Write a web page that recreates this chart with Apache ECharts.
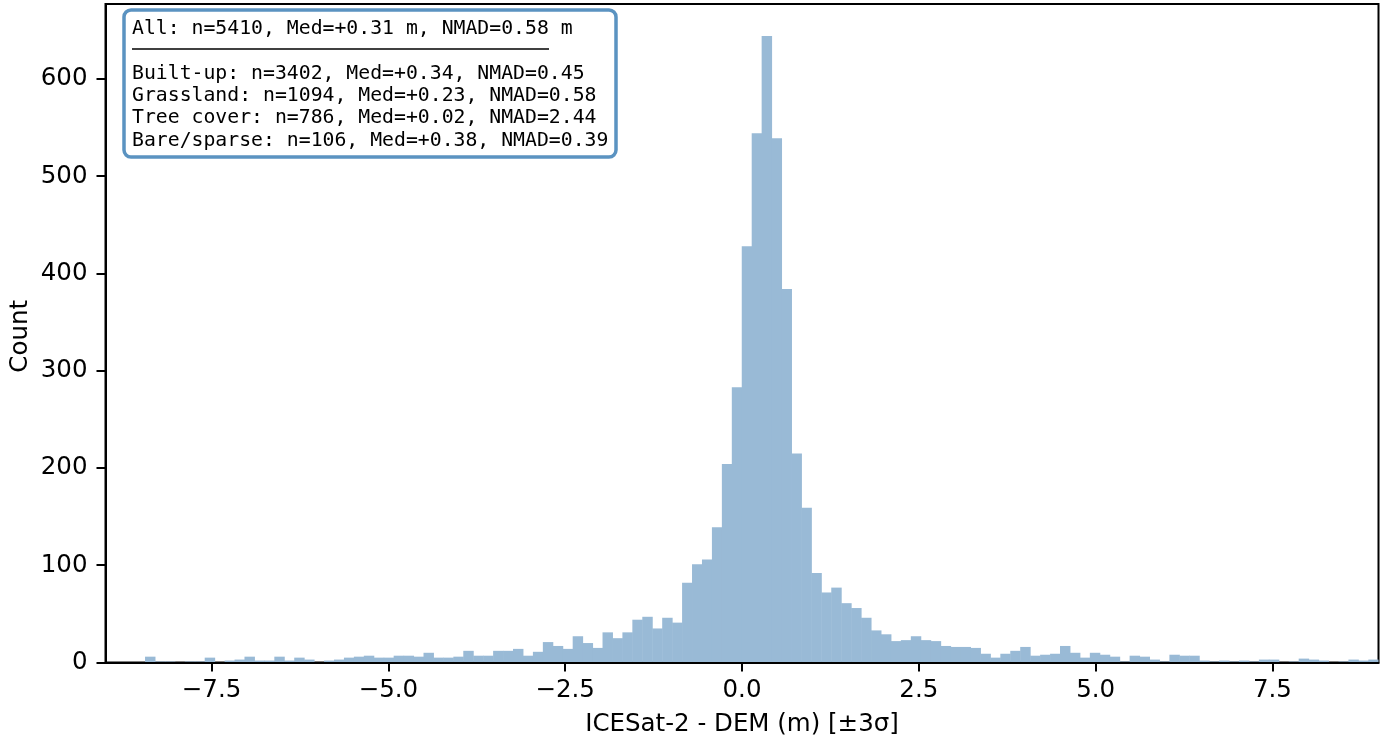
<!DOCTYPE html>
<html>
<head>
<meta charset="utf-8">
<title>ICESat-2 - DEM</title>
<script src="https://cdn.jsdelivr.net/npm/echarts@6/dist/echarts.min.js"></script>
<style>
html, body { margin: 0; padding: 0; background: #fff; }
#chart { width: 1383px; height: 742px; }
</style>
</head>
<body>
<div id="chart"></div>
<script>
// 128 bins between -9 and +9 m
const xMin = -9;
const xMax = 9;
const binCount = [
    0, 0, 0, 0, 6, 1, 1, 0, 1, 1, 5, 0, 2, 3, 6, 2,
    2, 6, 2, 5, 3, 0, 2, 3, 5, 6, 7, 5, 5, 7, 7, 6,
    10, 5, 5, 6, 12, 7, 7, 12, 12, 14, 7, 11, 21, 17, 14, 27,
    20, 15, 31, 25, 31, 44, 47, 35, 46, 41, 82, 101, 106, 139, 204, 283,
    428, 544, 644, 539, 384, 215, 159, 92, 72, 77, 61, 56, 46, 33, 29, 22,
    23, 27, 23, 22, 17, 16, 16, 15, 9, 5, 9, 12, 16, 7, 8, 9,
    17, 10, 5, 10, 8, 6, 1, 7, 6, 3, 1, 8, 7, 7, 2, 1,
    2, 1, 2, 1, 3, 3, 0, 1, 4, 3, 2, 0, 1, 3, 2, 3
];
const binLabels = binCount.map((v, i) => (xMin + (i + 0.5) * (xMax - xMin) / binCount.length).toFixed(3));
const xTicks = [-7.5, -5, -2.5, 0, 2.5, 5, 7.5];
const yTicks = [0, 100, 200, 300, 400, 500, 600];
const statsTitle = 'All: n=5410, Med=+0.31 m, NMAD=0.58 m';
const statsLines = [
    'Built-up: n=3402, Med=+0.34, NMAD=0.45',
    'Grassland: n=1094, Med=+0.23, NMAD=0.58',
    'Tree cover: n=786, Med=+0.02, NMAD=2.44',
    'Bare/sparse: n=106, Med=+0.38, NMAD=0.39'
];

document.addEventListener('DOMContentLoaded', function() {
    const chart = echarts.init(document.getElementById('chart'));
    const font = '"DejaVu Sans"';
    const mono = '"DejaVu Sans Mono"';
    const statsStyle = { fontFamily: mono, fontSize: 19.8, fill: '#000', textVerticalAlign: 'middle' };

    const option = {
        animation: false,
        backgroundColor: '#fff',
        grid: {
            left: 105.5,
            right: 4.5,
            top: 4,
            bottom: 79.5,
            outerBoundsMode: 'none',
            show: true,
            borderColor: '#000',
            borderWidth: 2,
            backgroundColor: 'transparent'
        },
        xAxis: [
            // 柱子用的类目轴，不显示
            { type: 'category', data: binLabels, show: false, boundaryGap: true },
            {
                type: 'value',
                position: 'bottom',
                z: 5,
                min: xMin,
                max: xMax,
                splitLine: { show: false },
                axisLine: { show: true, onZero: false, lineStyle: { color: '#000', width: 2 } },
                axisTick: { show: true, length: 9, customValues: xTicks, lineStyle: { color: '#000', width: 2 } },
                axisLabel: {
                    customValues: xTicks,
                    fontFamily: font,
                    fontSize: 24.5,
                    color: '#000',
                    margin: 16,
                    formatter: function(v) { return (v < 0 ? '\u2212' : '') + Math.abs(v).toFixed(1); }
                },
                name: 'ICESat-2 - DEM (m) [\u00b13\u03c3]',
                nameLocation: 'middle',
                nameGap: 50,
                nameTextStyle: { fontFamily: font, fontSize: 24.5, color: '#000' }
            }
        ],
        yAxis: {
            type: 'value',
            z: 5,
            min: 0,
            max: 677,
            splitLine: { show: false },
            axisLine: { show: true, onZero: false, lineStyle: { color: '#000', width: 2 } },
            axisTick: { show: true, length: 9, customValues: yTicks, lineStyle: { color: '#000', width: 2 } },
            axisLabel: { customValues: yTicks, fontFamily: font, fontSize: 24.5, color: '#000', margin: 18, padding: [6, 0, 0, 0] },
            name: 'Count',
            nameLocation: 'middle',
            nameGap: 72,
            nameMoveOverlap: false,
            nameTextStyle: { fontFamily: font, fontSize: 24.5, color: '#000', padding: [0, 6, 0, 0] }
        },
        series: [{
            type: 'bar',
            xAxisIndex: 0,
            data: binCount,
            barWidth: '105%',
            barGap: 0,
            itemStyle: { color: '#99bad6' },
            silent: true
        }],
        graphic: [
            {
                type: 'rect',
                z: 100,
                shape: { x: 124, y: 10, width: 492, height: 147, r: 7 },
                style: { fill: '#fff', stroke: '#5b93c1', lineWidth: 3.5 }
            },
            {
                type: 'text',
                z: 101,
                x: 132,
                y: 28.5,
                style: Object.assign({ text: statsTitle }, statsStyle)
            },
            {
                type: 'line',
                z: 101,
                shape: { x1: 132, y1: 49, x2: 549, y2: 49 },
                style: { stroke: '#000', lineWidth: 1.5 }
            }
        ].concat(statsLines.map(function(line, i) {
            return {
                type: 'text',
                z: 101,
                x: 132,
                y: 73.5 + i * 22.4,
                style: Object.assign({ text: line }, statsStyle)
            };
        }))
    };

    chart.setOption(option);
    window.addEventListener('resize', function() { chart.resize(); });
});
</script>
</body>
</html>
